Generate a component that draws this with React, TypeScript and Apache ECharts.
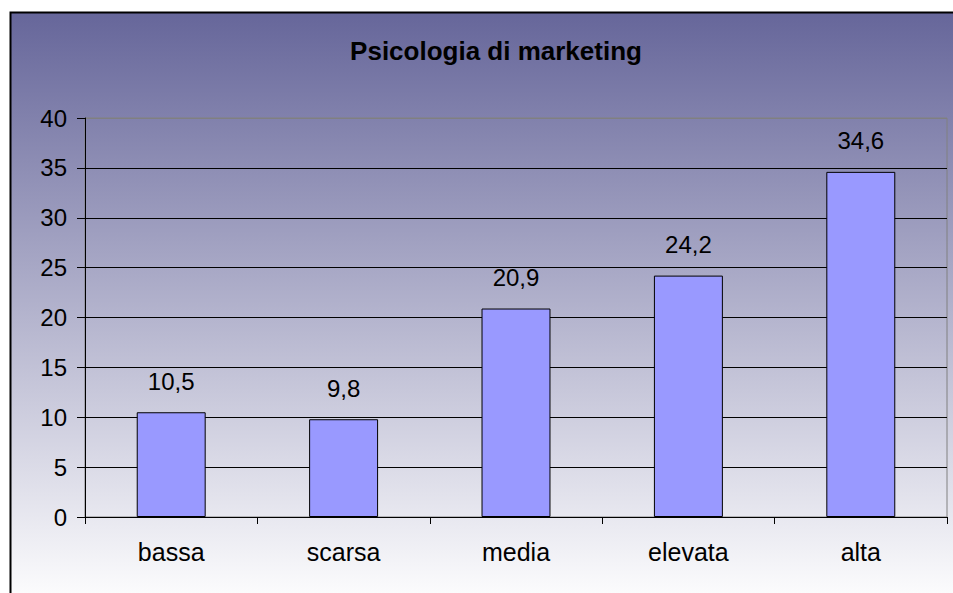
import React, { useEffect, useRef } from "react";
import * as echarts from "echarts";

const categories = ["bassa", "scarsa", "media", "elevata", "alta"];
const values = [10.5, 9.8, 20.9, 24.2, 34.6];
const titleText = "Psicologia di marketing";

export default function App() {
  const ref = useRef<HTMLDivElement>(null);
  useEffect(() => {
    if (!ref.current) return;
    const chart = echarts.init(ref.current, null, { renderer: "svg" });
    const font = "Liberation Sans, Arial, sans-serif";
    chart.setOption({
      animation: false,
      backgroundColor: "#ffffff",
      graphic: [
        {
          type: "rect",
          z: -10,
          silent: true,
          shape: { x: 10.5, y: 12.5, width: 1000, height: 700 },
          style: {
            fill: new echarts.graphic.LinearGradient(0, 0, 0, 1, [
              { offset: 0, color: "#66669a" },
              { offset: 0.85, color: "#ffffff" },
              { offset: 1, color: "#ffffff" },
            ]),
            stroke: "#000000",
            lineWidth: 2,
          },
        },
      ],
      title: {
        text: titleText,
        left: 496,
        top: 38,
        padding: 0,
        textAlign: "center",
        textStyle: {
          fontFamily: font,
          fontSize: 26,
          fontWeight: "bold",
          color: "#000",
        },
      },
      grid: {
        left: 85,
        right: 6,
        top: 118,
        bottom: 76,
        show: true,
        borderColor: "#808080",
        borderWidth: 1,
        backgroundColor: "transparent",
      },
      xAxis: {
        type: "category",
        data: categories,
        axisLine: { show: true, lineStyle: { color: "#000", width: 1 } },
        axisTick: { show: true, length: 7, alignWithLabel: false, lineStyle: { color: "#000" } },
        axisLabel: {
          margin: 22,
          fontSize: 25,
          fontFamily: font,
          color: "#000",
        },
        splitLine: { show: false },
      },
      yAxis: {
        type: "value",
        min: 0,
        max: 40,
        interval: 5,
        axisLine: { show: true, lineStyle: { color: "#000", width: 1 } },
        axisTick: { show: true, length: 8, lineStyle: { color: "#000" } },
        axisLabel: { margin: 18, fontSize: 24, fontFamily: font, color: "#000" },
        splitLine: {
          show: true,
          lineStyle: {
            color: ["#000", "#000", "#000", "#000", "#000", "#000", "#000", "#000", "#808080"],
            width: 1,
          },
        },
      },
      series: [
        {
          type: "bar",
          data: values,
          barWidth: "40%",
          itemStyle: { color: "#9999ff", borderColor: "#000", borderWidth: 1 },
          label: {
            show: true,
            position: "top",
            distance: 19,
            fontSize: 24,
            fontFamily: font,
            color: "#000",
            formatter: (p: any) => String(p.value).replace(".", ","),
          },
        },
      ],
    });
    return () => chart.dispose();
  }, []);
  return (
    <div
      ref={ref}
      style={{ position: "fixed", left: 0, top: 0, width: 953, height: 593 }}
    />
  );
}
